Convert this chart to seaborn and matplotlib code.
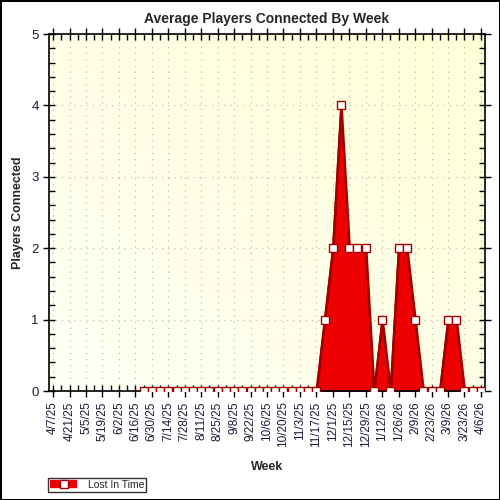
import numpy as np
import pandas as pd
import matplotlib
matplotlib.use("Agg")
import matplotlib.pyplot as plt
import seaborn as sns
from matplotlib.colors import LinearSegmentedColormap

# Weekly averages, one label per week from 4/7/25 to 4/6/26
weeks = pd.date_range("2025-04-07", "2026-04-06", freq="7D")
week_labels = [f"{d.month}/{d.day}/{d.strftime('%y')}" for d in weeks]
# no data before 6/23/25
players = [np.nan] * 11 + [0] * 22 + [1, 2, 4, 2, 2, 2, 0, 1, 0, 2, 2, 1, 0, 0, 0, 1, 1, 0, 0, 0]

df = pd.DataFrame({"idx": range(len(weeks)), "Week": week_labels, "Players": players})

sns.set_theme(style="white")
plt.rcParams["font.family"] = ["Liberation Sans", "DejaVu Sans"]

fig = plt.figure(figsize=(5, 5), dpi=100)
fig.patch.set_edgecolor("black")
fig.patch.set_linewidth(2)
ax = fig.add_axes([0.098, 0.218, 0.872, 0.714])

# soft yellow gradient background
grad = np.add.outer(np.linspace(1, 0, 100), np.linspace(0, 1, 100)) / 2
cmap = LinearSegmentedColormap.from_list("bg", ["#fffff7", "#ffffd6"])
ax.imshow(grad, extent=(-0.5, 52.5, 0, 5), aspect="auto", cmap=cmap, zorder=0, origin="upper")

valid = df.dropna()
ax.fill_between(valid["idx"], 0, valid["Players"], color="#ee0000", edgecolor="#a00000",
                linewidth=1.8, zorder=2)
sns.lineplot(ax=ax, data=valid, x="idx", y="Players", color="#a00000", linewidth=1.2,
             marker="s", markersize=5.5, markerfacecolor="white", markeredgecolor="#a00000",
             markeredgewidth=1, label="Lost In Time", zorder=3)

ax.set_xlim(-0.5, 52.5)
ax.set_ylim(0, 5)
ax.set_xticks(df["idx"][::2])
ax.set_xticklabels(df["Week"][::2], rotation=90, fontsize=8.5, color="#1a1a3a")
ax.set_xticks(df["idx"], minor=True)
ax.set_yticks(range(6))
ax.set_yticklabels(range(6), fontsize=9.5, color="#1a1a3a")
ax.set_yticks(np.arange(0, 5.01, 0.2), minor=True)
ax.grid(True, which="major", linestyle=(0, (1, 4)), color="#c0c0c0", linewidth=0.9)
ax.tick_params(which="both", direction="in", top=True, right=True, left=True, bottom=True,
               length=4, width=1, color="black")
ax.tick_params(which="major", left=True, bottom=True, direction="inout", length=8)
ax.tick_params(which="minor", length=4)
for s in ax.spines.values():
    s.set_color("black")
    s.set_linewidth(1.2)

ax.set_title("Average Players Connected By Week", fontsize=10, fontweight="bold", pad=8)
ax.set_xlabel("Week", fontsize=9, fontweight="bold", labelpad=10)
ax.set_ylabel("Players Connected", fontsize=9, fontweight="bold", labelpad=5)

leg = ax.legend(loc="lower left", bbox_to_anchor=(0.096, 0.016), bbox_transform=fig.transFigure,
                fontsize=7.5, frameon=True, fancybox=False, edgecolor="black", borderpad=0.2,
                handlelength=2.6, handletextpad=1.0, borderaxespad=0)
leg.get_frame().set_linewidth(1)
h = leg.legend_handles[0]
h.set_linewidth(6)
h.set_color("#ee0000")
h.set_solid_capstyle("butt")
h.set_markeredgecolor("#a00000")
h.set_markerfacecolor("white")

fig.savefig("out.png", dpi=100)
